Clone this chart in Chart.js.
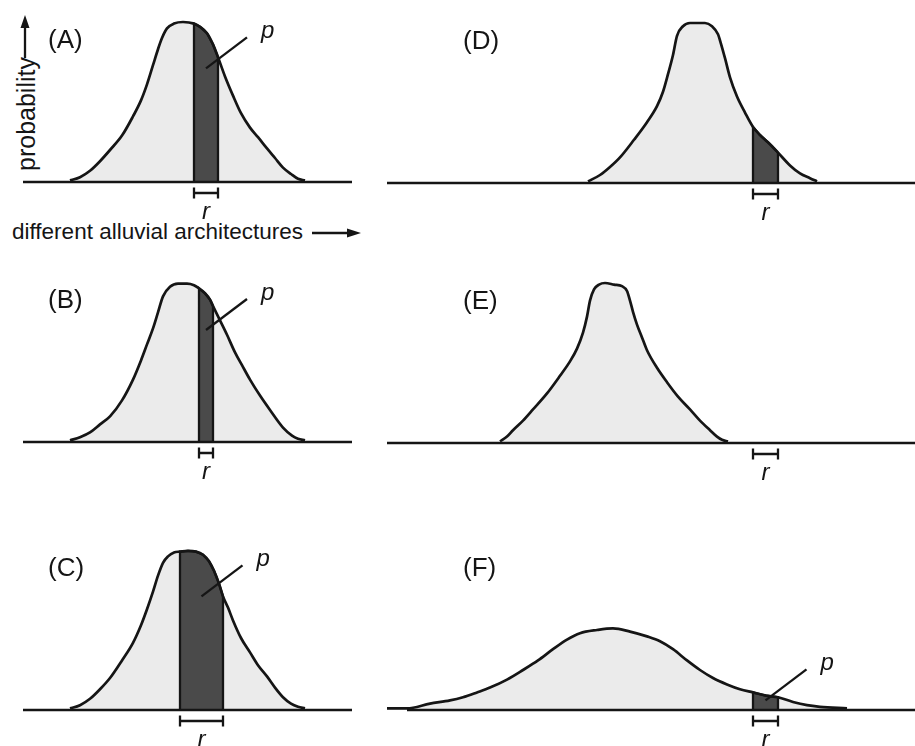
<!DOCTYPE html>
<html>
<head>
<meta charset="utf-8">
<script src="https://cdn.jsdelivr.net/npm/chart.js@4.4.1/dist/chart.umd.min.js"></script>
<style>
body { margin: 0; width: 915px; height: 746px; overflow: hidden; background: #fff; position: relative;
       font-family: "Liberation Sans", Arial, sans-serif; color: #151515; }
canvas { position: absolute; }
.lbl { position: absolute; white-space: nowrap; line-height: 1; }
#ylab { left: 26px; top: 114px; font-size: 25px; transform: translate(-50%, -50%) rotate(-90deg); }
#xlab { left: 12px; top: 221px; font-size: 22.5px; }
</style>
</head>
<body>
<div class="lbl" id="ylab">probability</div>
<div class="lbl" id="xlab">different alluvial architectures</div>

<script>
// panel letters
const letters = ['A', 'B', 'C', 'D', 'E', 'F'];

// x = position along the architecture axis, y = relative probability (peak of A = 1)
const archA = [47,57,67,77,87,99,110,118,124,130,135,139,144,151,160,171,177,184,190,195,202,210,218,227,235,244,252,260,268,275,282];
const probA = [0.01,0.03,0.07,0.13,0.2,0.29,0.41,0.51,0.61,0.73,0.83,0.9,0.96,0.99,1,0.99,0.97,0.93,0.86,0.78,0.66,0.54,0.43,0.34,0.28,0.21,0.15,0.09,0.05,0.02,0.01];
const rA = [171, 195];

const archB = [47,57,67,77,87,99,110,118,124,130,135,140,147,155,164,171,176,182,187,190,197,204,212,219,227,237,247,260,269,275,282];
const probB = [0.01,0.03,0.06,0.11,0.16,0.26,0.39,0.51,0.61,0.71,0.81,0.91,0.97,0.99,0.99,0.98,0.96,0.93,0.89,0.85,0.76,0.67,0.56,0.48,0.39,0.29,0.2,0.09,0.04,0.02,0.01];
const rB = [176, 190];

const archC = [47,57,67,77,87,99,110,118,124,130,135,140,145,151,157,165,173,180,186,191,196,200,205,210,218,227,235,244,252,260,268,275,282];
const probC = [0.01,0.03,0.07,0.13,0.2,0.31,0.42,0.53,0.63,0.74,0.84,0.92,0.96,0.985,0.99,0.995,0.99,0.97,0.93,0.87,0.79,0.71,0.64,0.56,0.45,0.36,0.28,0.21,0.14,0.08,0.04,0.02,0.01];
const rC = [157, 200];

const archD = [201,213,223,233,247,260,270,276,281,286,290,296,303,310,318,325,331,334,338,343,350,358,366,373,380,385,391,403,413,423,430];
const probD = [0.01,0.05,0.1,0.16,0.27,0.38,0.48,0.57,0.68,0.8,0.92,0.98,1,1,1,0.98,0.93,0.87,0.78,0.66,0.54,0.44,0.35,0.3,0.26,0.23,0.19,0.11,0.06,0.03,0.01];
const rD = [366, 391];

const archE = [113,120,126,136,146,160,173,183,190,196,200,203,207,212,218,227,235,240,243,246,250,255,260,270,280,291,303,313,323,330,335,341];
const probE = [0.01,0.04,0.08,0.14,0.21,0.31,0.42,0.51,0.59,0.69,0.79,0.89,0.96,0.99,1,0.99,0.98,0.95,0.89,0.82,0.74,0.66,0.58,0.47,0.38,0.29,0.21,0.14,0.08,0.04,0.02,0.01];
const rE = [366, 391];

const archF = [0,20,43,63,76,90,103,120,136,151,166,180,193,210,226,243,260,273,286,300,313,326,340,353,366,379,391,406,420,433,460];
const probF = [0.01,0.01,0.04,0.06,0.08,0.11,0.14,0.19,0.25,0.31,0.38,0.44,0.48,0.5,0.51,0.49,0.46,0.43,0.38,0.31,0.25,0.2,0.16,0.13,0.11,0.09,0.08,0.05,0.03,0.02,0.01];
const rF = [366, 391];

const ink = '#151515';
const light = '#ebebeb';
const dark = '#4a4a4a';

// layout of the six panels (column, baseline in page px, where the p leader starts)
const panels = [
  { arch: archA, prob: probA, r: rA, col: 0, base: 182, pAt: 0.71, axes: true },
  { arch: archB, prob: probB, r: rB, col: 0, base: 442, pAt: 0.70 },
  { arch: archC, prob: probC, r: rC, col: 0, base: 710, pAt: 0.71 },
  { arch: archD, prob: probD, r: rD, col: 1, base: 183 },
  { arch: archE, prob: probE, r: rE, col: 1, base: 443, noShade: true },
  { arch: archF, prob: probF, r: rF, col: 1, base: 710, pAt: 0.06, axisFrom: 20 }
];
const cols = [
  { left: 0, width: 370, padL: 23, padR: 18, letterDx: 25 },
  { left: 380, width: 535, padL: 7, padR: 0, letterDx: 76 }
];

const annot = {
  id: 'annot',
  afterDatasetsDraw(chart, args, o) {
    const ctx = chart.ctx, xs = chart.scales.x, ys = chart.scales.y;
    const y0 = ys.getPixelForValue(0);
    ctx.save();
    ctx.strokeStyle = ink;
    ctx.fillStyle = ink;
    ctx.lineWidth = 2.3;

    // r bracket
    const a = xs.getPixelForValue(o.r[0]), b = xs.getPixelForValue(o.r[1]), by = y0 + 11;
    ctx.beginPath();
    ctx.moveTo(a, by); ctx.lineTo(b, by);
    ctx.moveTo(a, by - 5.5); ctx.lineTo(a, by + 5.5);
    ctx.moveTo(b, by - 5.5); ctx.lineTo(b, by + 5.5);
    ctx.stroke();
    ctx.font = 'italic 24px "Liberation Sans"';
    ctx.textAlign = 'center';
    ctx.textBaseline = 'alphabetic';
    ctx.fillText('r', (a + b) / 2, y0 + 37);

    // p leader
    if (o.pAt != null) {
      const sx = xs.getPixelForValue((o.r[0] + o.r[1]) / 2), sy = ys.getPixelForValue(o.pAt);
      ctx.beginPath();
      ctx.moveTo(sx, sy); ctx.lineTo(sx + 41, sy - 31);
      ctx.stroke();
      ctx.textAlign = 'left';
      ctx.fillText('p', sx + 55, sy - 30);
    }

    // panel letter
    ctx.font = '26px "Liberation Sans"';
    ctx.textAlign = 'left';
    ctx.fillText('(' + o.letter + ')', chart.chartArea.left + o.letterDx, y0 - 134);

    // axis arrows for the first panel
    if (o.axes) {
      ctx.beginPath();
      ctx.moveTo(25, 58); ctx.lineTo(25, 26);
      ctx.moveTo(312, 233); ctx.lineTo(349, 233);
      ctx.stroke();
      ctx.beginPath();
      ctx.moveTo(25, 15); ctx.lineTo(20.5, 28); ctx.lineTo(29.5, 28); ctx.closePath();
      ctx.moveTo(361, 233); ctx.lineTo(347, 228.5); ctx.lineTo(347, 237.5); ctx.closePath();
      ctx.fill();
    }
    ctx.restore();
  }
};

panels.forEach(function (p, i) {
  const c = cols[p.col];
  const canvas = document.createElement('canvas');
  canvas.width = c.width;
  canvas.height = 250;
  canvas.style.left = c.left + 'px';
  canvas.style.top = (p.base - 182) + 'px';
  document.body.appendChild(canvas);

  const xMax = c.width - c.padL - c.padR;
  const curve = p.arch.map(function (x, k) { return { x: x, y: p.prob[k] }; });
  let shade = [];
  if (!p.noShade) {
    shade = [{ x: p.r[0], y: 0 }]
      .concat(curve.filter(function (pt) { return pt.x >= p.r[0] && pt.x <= p.r[1]; }))
      .concat([{ x: p.r[1], y: 0 }]);
  }

  new Chart(canvas, {
    type: 'line',
    data: {
      datasets: [
        { // baseline
          data: [{ x: p.axisFrom || 0, y: 0 }, { x: xMax, y: 0 }],
          borderColor: ink, borderWidth: 2.4, pointRadius: 0, fill: false, clip: false
        },
        { // curve outline
          data: curve, borderColor: ink, borderWidth: 2.7, pointRadius: 0,
          cubicInterpolationMode: 'monotone', fill: false, clip: false
        },
        { // shaded part p
          data: shade, borderColor: ink, borderWidth: 2.3, pointRadius: 0,
          backgroundColor: dark, tension: 0, fill: 'origin', clip: false
        },
        { // curve fill
          data: curve, borderWidth: 0, borderColor: 'rgba(0,0,0,0)', pointRadius: 0,
          backgroundColor: light, cubicInterpolationMode: 'monotone', fill: 'origin', clip: false
        }
      ]
    },
    options: {
      responsive: false,
      animation: false,
      devicePixelRatio: 1,
      events: [],
      layout: { padding: { left: c.padL, right: c.padR, top: 22, bottom: 68 } },
      scales: {
        x: { type: 'linear', min: 0, max: xMax, display: false },
        y: { min: 0, max: 1, display: false }
      },
      plugins: {
        legend: { display: false },
        tooltip: { enabled: false },
        annot: { r: p.r, pAt: p.pAt, letter: letters[i], letterDx: c.letterDx, axes: p.axes }
      }
    },
    plugins: [annot]
  });
});
</script>
</body>
</html>
